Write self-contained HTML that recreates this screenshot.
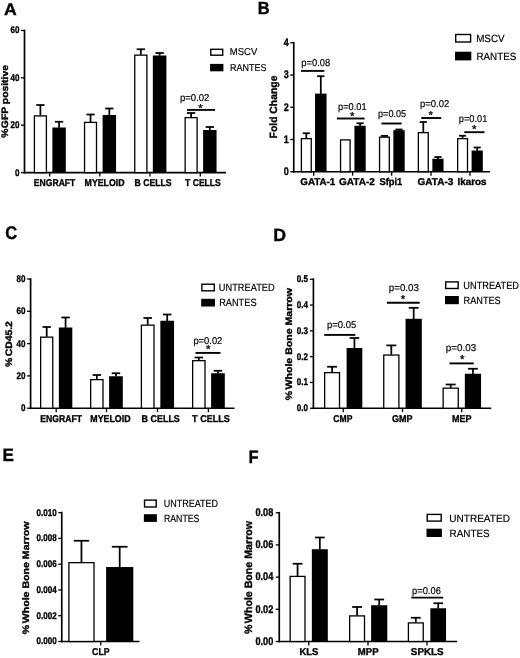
<!DOCTYPE html>
<html lang="en">
<head>
<meta charset="utf-8">
<title>Figure</title>
<style>
html,body{margin:0;padding:0;background:#fff;}
body{width:520px;height:658px;overflow:hidden;}
svg{display:block;}
svg text{font-family:"Liberation Sans", Arial, sans-serif;fill:#000;text-rendering:geometricPrecision;}
</style>
</head>
<body>
<svg width="520" height="658" viewBox="0 0 520 658">
<rect x="0" y="0" width="520" height="658" fill="#fff"/>
<text transform="translate(4.00 15.20) scale(1.05 1)" font-size="16.8" font-weight="bold" stroke="#000" stroke-width="0.35">A</text>
<text transform="translate(257.85 13.55) scale(0.935 1)" font-size="17.6" font-weight="bold" stroke="#000" stroke-width="0.35">B</text>
<text transform="translate(5.37 238.95) scale(0.91 1)" font-size="18.2" font-weight="bold" stroke="#000" stroke-width="0.35">C</text>
<text transform="translate(273.26 240.80) scale(1.005 1)" font-size="17.7" font-weight="bold" stroke="#000" stroke-width="0.35">D</text>
<text transform="translate(2.50 460.70) scale(0.955 1)" font-size="17.9" font-weight="bold" stroke="#000" stroke-width="0.35">E</text>
<text transform="translate(248.45 462.50) scale(0.92 1)" font-size="18.0" font-weight="bold" stroke="#000" stroke-width="0.35">F</text>
<line x1="24.50" y1="29.65" x2="24.50" y2="173.45" stroke="#000" stroke-width="1.7"/>
<line x1="23.65" y1="172.60" x2="226.00" y2="172.60" stroke="#000" stroke-width="1.7"/>
<line x1="21.00" y1="30.50" x2="24.50" y2="30.50" stroke="#000" stroke-width="1.3"/>
<text transform="translate(19.50 33.40) scale(0.82 1)" font-size="9.8" font-weight="bold" stroke="#000" stroke-width="0.35" text-anchor="end">60</text>
<line x1="21.00" y1="77.85" x2="24.50" y2="77.85" stroke="#000" stroke-width="1.3"/>
<text transform="translate(19.50 80.75) scale(0.82 1)" font-size="9.8" font-weight="bold" stroke="#000" stroke-width="0.35" text-anchor="end">40</text>
<line x1="21.00" y1="125.20" x2="24.50" y2="125.20" stroke="#000" stroke-width="1.3"/>
<text transform="translate(19.50 128.10) scale(0.82 1)" font-size="9.8" font-weight="bold" stroke="#000" stroke-width="0.35" text-anchor="end">20</text>
<line x1="21.00" y1="172.60" x2="24.50" y2="172.60" stroke="#000" stroke-width="1.3"/>
<text transform="translate(19.50 175.50) scale(0.82 1)" font-size="9.8" font-weight="bold" stroke="#000" stroke-width="0.35" text-anchor="end">0</text>
<line x1="49.70" y1="172.60" x2="49.70" y2="176.50" stroke="#000" stroke-width="1.3"/>
<line x1="99.80" y1="172.60" x2="99.80" y2="176.50" stroke="#000" stroke-width="1.3"/>
<line x1="150.00" y1="172.60" x2="150.00" y2="176.50" stroke="#000" stroke-width="1.3"/>
<line x1="200.30" y1="172.60" x2="200.30" y2="176.50" stroke="#000" stroke-width="1.3"/>
<rect x="34.40" y="115.90" width="12.00" height="56.70" fill="#fff" stroke="#000" stroke-width="1.3"/>
<line x1="40.40" y1="115.55" x2="40.40" y2="105.00" stroke="#000" stroke-width="1.75"/>
<line x1="36.26" y1="105.00" x2="44.54" y2="105.00" stroke="#000" stroke-width="1.75"/>
<rect x="52.35" y="127.50" width="13.45" height="45.10" fill="#000"/>
<line x1="59.08" y1="127.80" x2="59.08" y2="121.75" stroke="#000" stroke-width="1.75"/>
<line x1="54.89" y1="121.75" x2="63.26" y2="121.75" stroke="#000" stroke-width="1.75"/>
<rect x="84.55" y="122.40" width="11.95" height="50.20" fill="#fff" stroke="#000" stroke-width="1.3"/>
<line x1="90.53" y1="122.05" x2="90.53" y2="114.50" stroke="#000" stroke-width="1.75"/>
<line x1="86.40" y1="114.50" x2="94.65" y2="114.50" stroke="#000" stroke-width="1.75"/>
<rect x="102.60" y="115.00" width="13.45" height="57.60" fill="#000"/>
<line x1="109.32" y1="115.30" x2="109.32" y2="108.50" stroke="#000" stroke-width="1.75"/>
<line x1="105.14" y1="108.50" x2="113.51" y2="108.50" stroke="#000" stroke-width="1.75"/>
<rect x="134.75" y="55.15" width="12.15" height="117.45" fill="#fff" stroke="#000" stroke-width="1.3"/>
<line x1="140.82" y1="54.80" x2="140.82" y2="49.25" stroke="#000" stroke-width="1.75"/>
<line x1="136.64" y1="49.25" x2="145.01" y2="49.25" stroke="#000" stroke-width="1.75"/>
<rect x="152.85" y="55.50" width="13.55" height="117.10" fill="#000"/>
<line x1="159.62" y1="55.80" x2="159.62" y2="53.00" stroke="#000" stroke-width="1.75"/>
<line x1="155.42" y1="53.00" x2="163.83" y2="53.00" stroke="#000" stroke-width="1.75"/>
<rect x="185.15" y="117.65" width="11.95" height="54.95" fill="#fff" stroke="#000" stroke-width="1.3"/>
<line x1="191.12" y1="117.30" x2="191.12" y2="113.00" stroke="#000" stroke-width="1.75"/>
<line x1="187.00" y1="113.00" x2="195.25" y2="113.00" stroke="#000" stroke-width="1.75"/>
<rect x="203.10" y="130.00" width="13.45" height="42.60" fill="#000"/>
<line x1="209.82" y1="130.30" x2="209.82" y2="127.00" stroke="#000" stroke-width="1.75"/>
<line x1="205.64" y1="127.00" x2="214.01" y2="127.00" stroke="#000" stroke-width="1.75"/>
<text transform="translate(33.85 185.90) scale(0.8684 1)" font-size="9.9" font-weight="bold" stroke="#000" stroke-width="0.35">ENGRAFT</text>
<text transform="translate(84.60 185.90) scale(0.888 1)" font-size="9.9" font-weight="bold" stroke="#000" stroke-width="0.35">MYELOID</text>
<text transform="translate(134.60 185.90) scale(0.8748 1)" font-size="9.9" font-weight="bold" stroke="#000" stroke-width="0.35">B CELLS</text>
<text transform="translate(185.10 185.90) scale(0.8679 1)" font-size="9.9" font-weight="bold" stroke="#000" stroke-width="0.35">T CELLS</text>
<line x1="187.00" y1="109.90" x2="215.00" y2="109.90" stroke="#000" stroke-width="1.9"/>
<text x="200.60" y="112.10" font-size="11.5" text-anchor="middle" stroke="#000" stroke-width="0.3">*</text>
<text transform="translate(180.00 101.20) scale(0.9654 1)" font-size="9.9" stroke="#000" stroke-width="0.18">p=0.02</text>
<rect x="210.80" y="49.30" width="11.90" height="5.90" fill="#fff" stroke="#000" stroke-width="1.4"/>
<rect x="210.10" y="63.90" width="13.30" height="7.40" fill="#000"/>
<text transform="translate(229.80 55.40) scale(0.9484 1)" font-size="10" stroke="#000" stroke-width="0.18">MSCV</text>
<text transform="translate(230.10 70.80) scale(0.8949 1)" font-size="10" stroke="#000" stroke-width="0.18">RANTES</text>
<text transform="translate(8.20 137.70) rotate(-90) scale(1.104 1)" font-size="9.4" font-weight="bold" stroke="#000" stroke-width="0.35">%<tspan dx="0.3">GFP positive</tspan></text>
<line x1="293.75" y1="41.90" x2="293.75" y2="172.60" stroke="#000" stroke-width="1.7"/>
<line x1="292.90" y1="171.75" x2="490.00" y2="171.75" stroke="#000" stroke-width="1.7"/>
<line x1="290.25" y1="42.75" x2="293.75" y2="42.75" stroke="#000" stroke-width="1.3"/>
<text transform="translate(288.80 46.01) scale(0.82 1)" font-size="11" font-weight="bold" stroke="#000" stroke-width="0.35" text-anchor="end">4</text>
<line x1="290.25" y1="75.00" x2="293.75" y2="75.00" stroke="#000" stroke-width="1.3"/>
<text transform="translate(288.80 78.26) scale(0.82 1)" font-size="11" font-weight="bold" stroke="#000" stroke-width="0.35" text-anchor="end">3</text>
<line x1="290.25" y1="107.25" x2="293.75" y2="107.25" stroke="#000" stroke-width="1.3"/>
<text transform="translate(288.80 110.51) scale(0.82 1)" font-size="11" font-weight="bold" stroke="#000" stroke-width="0.35" text-anchor="end">2</text>
<line x1="290.25" y1="139.50" x2="293.75" y2="139.50" stroke="#000" stroke-width="1.3"/>
<text transform="translate(288.80 142.76) scale(0.82 1)" font-size="11" font-weight="bold" stroke="#000" stroke-width="0.35" text-anchor="end">1</text>
<line x1="290.25" y1="171.75" x2="293.75" y2="171.75" stroke="#000" stroke-width="1.3"/>
<text transform="translate(288.80 175.01) scale(0.82 1)" font-size="11" font-weight="bold" stroke="#000" stroke-width="0.35" text-anchor="end">0</text>
<line x1="313.75" y1="171.75" x2="313.75" y2="175.65" stroke="#000" stroke-width="1.3"/>
<line x1="352.60" y1="171.75" x2="352.60" y2="175.65" stroke="#000" stroke-width="1.3"/>
<line x1="391.70" y1="171.75" x2="391.70" y2="175.65" stroke="#000" stroke-width="1.3"/>
<line x1="431.00" y1="171.75" x2="431.00" y2="175.65" stroke="#000" stroke-width="1.3"/>
<line x1="470.00" y1="171.75" x2="470.00" y2="175.65" stroke="#000" stroke-width="1.3"/>
<rect x="301.40" y="138.65" width="9.85" height="33.10" fill="#fff" stroke="#000" stroke-width="1.3"/>
<line x1="306.32" y1="138.30" x2="306.32" y2="133.25" stroke="#000" stroke-width="1.75"/>
<line x1="302.76" y1="133.25" x2="309.89" y2="133.25" stroke="#000" stroke-width="1.75"/>
<rect x="315.05" y="93.60" width="11.50" height="78.15" fill="#000"/>
<line x1="320.80" y1="93.90" x2="320.80" y2="76.20" stroke="#000" stroke-width="1.75"/>
<line x1="317.15" y1="76.20" x2="324.45" y2="76.20" stroke="#000" stroke-width="1.75"/>
<rect x="340.55" y="139.90" width="9.55" height="31.85" fill="#fff" stroke="#000" stroke-width="1.3"/>
<rect x="354.45" y="125.75" width="11.25" height="46.00" fill="#000"/>
<line x1="360.08" y1="126.05" x2="360.08" y2="123.25" stroke="#000" stroke-width="1.75"/>
<line x1="356.49" y1="123.25" x2="363.66" y2="123.25" stroke="#000" stroke-width="1.75"/>
<rect x="379.55" y="137.15" width="9.75" height="34.60" fill="#fff" stroke="#000" stroke-width="1.3"/>
<line x1="384.42" y1="136.80" x2="384.42" y2="135.90" stroke="#000" stroke-width="1.75"/>
<line x1="380.89" y1="135.90" x2="387.96" y2="135.90" stroke="#000" stroke-width="1.75"/>
<rect x="393.35" y="130.20" width="11.35" height="41.55" fill="#000"/>
<line x1="399.02" y1="130.50" x2="399.02" y2="129.50" stroke="#000" stroke-width="1.75"/>
<line x1="395.41" y1="129.50" x2="402.64" y2="129.50" stroke="#000" stroke-width="1.75"/>
<rect x="418.35" y="132.65" width="9.90" height="39.10" fill="#fff" stroke="#000" stroke-width="1.3"/>
<line x1="423.30" y1="132.30" x2="423.30" y2="122.00" stroke="#000" stroke-width="1.75"/>
<line x1="419.73" y1="122.00" x2="426.87" y2="122.00" stroke="#000" stroke-width="1.75"/>
<rect x="432.35" y="158.75" width="11.20" height="13.00" fill="#000"/>
<line x1="437.95" y1="159.05" x2="437.95" y2="157.00" stroke="#000" stroke-width="1.75"/>
<line x1="434.38" y1="157.00" x2="441.52" y2="157.00" stroke="#000" stroke-width="1.75"/>
<rect x="457.65" y="138.65" width="9.85" height="33.10" fill="#fff" stroke="#000" stroke-width="1.3"/>
<line x1="462.57" y1="138.30" x2="462.57" y2="135.75" stroke="#000" stroke-width="1.75"/>
<line x1="459.01" y1="135.75" x2="466.14" y2="135.75" stroke="#000" stroke-width="1.75"/>
<rect x="471.60" y="150.50" width="11.20" height="21.25" fill="#000"/>
<line x1="477.20" y1="150.80" x2="477.20" y2="147.50" stroke="#000" stroke-width="1.75"/>
<line x1="473.63" y1="147.50" x2="480.77" y2="147.50" stroke="#000" stroke-width="1.75"/>
<text transform="translate(300.35 185.40) scale(0.9907 1)" font-size="9.9" font-weight="bold" stroke="#000" stroke-width="0.35">GATA-1</text>
<text transform="translate(339.10 185.40) scale(1.0119 1)" font-size="9.9" font-weight="bold" stroke="#000" stroke-width="0.35">GATA-2</text>
<text transform="translate(379.40 185.40) scale(0.9461 1)" font-size="9.9" font-weight="bold" stroke="#000" stroke-width="0.35">Sfpi1</text>
<text transform="translate(417.60 185.40) scale(1.0119 1)" font-size="9.9" font-weight="bold" stroke="#000" stroke-width="0.35">GATA-3</text>
<text transform="translate(457.60 185.40) scale(0.9959 1)" font-size="9.9" font-weight="bold" stroke="#000" stroke-width="0.35">Ikaros</text>
<line x1="301.00" y1="70.90" x2="324.40" y2="70.90" stroke="#000" stroke-width="1.9"/>
<text transform="translate(301.30 66.00) scale(0.9458 1)" font-size="9.9" stroke="#000" stroke-width="0.18">p=0.08</text>
<line x1="336.90" y1="118.50" x2="364.60" y2="118.50" stroke="#000" stroke-width="1.9"/>
<text x="352.30" y="119.55" font-size="11.5" text-anchor="middle" stroke="#000" stroke-width="0.3">*</text>
<text transform="translate(338.00 109.80) scale(0.9393 1)" font-size="9.9" stroke="#000" stroke-width="0.18">p=0.01</text>
<line x1="381.50" y1="123.50" x2="401.60" y2="123.50" stroke="#000" stroke-width="1.9"/>
<text transform="translate(378.00 117.20) scale(0.9229 1)" font-size="9.9" stroke="#000" stroke-width="0.18">p=0.05</text>
<line x1="421.25" y1="118.00" x2="441.25" y2="118.00" stroke="#000" stroke-width="1.9"/>
<text x="430.75" y="118.65" font-size="11.5" text-anchor="middle" stroke="#000" stroke-width="0.3">*</text>
<text transform="translate(420.00 106.80) scale(0.9573 1)" font-size="9.9" stroke="#000" stroke-width="0.18">p=0.02</text>
<line x1="464.25" y1="132.20" x2="484.50" y2="132.20" stroke="#000" stroke-width="1.9"/>
<text x="474.25" y="132.90" font-size="11.5" text-anchor="middle" stroke="#000" stroke-width="0.3">*</text>
<text transform="translate(458.75 122.10) scale(0.9376 1)" font-size="9.9" stroke="#000" stroke-width="0.18">p=0.01</text>
<rect x="455.70" y="34.50" width="14.90" height="7.50" fill="#fff" stroke="#000" stroke-width="1.4"/>
<rect x="455.00" y="51.70" width="16.30" height="8.70" fill="#000"/>
<text transform="translate(476.15 41.80) scale(0.9395 1)" font-size="10.5" stroke="#000" stroke-width="0.18">MSCV</text>
<text transform="translate(476.45 59.50) scale(0.9345 1)" font-size="10.5" stroke="#000" stroke-width="0.18">RANTES</text>
<text transform="translate(276.50 138.40) rotate(-90) scale(0.9877 1)" font-size="10.5" font-weight="bold" stroke="#000" stroke-width="0.35">Fold Change</text>
<line x1="30.60" y1="278.15" x2="30.60" y2="409.10" stroke="#000" stroke-width="1.7"/>
<line x1="29.75" y1="408.25" x2="234.50" y2="408.25" stroke="#000" stroke-width="1.7"/>
<line x1="27.10" y1="279.00" x2="30.60" y2="279.00" stroke="#000" stroke-width="1.3"/>
<text transform="translate(25.50 281.90) scale(0.82 1)" font-size="9.8" font-weight="bold" stroke="#000" stroke-width="0.35" text-anchor="end">80</text>
<line x1="27.10" y1="311.30" x2="30.60" y2="311.30" stroke="#000" stroke-width="1.3"/>
<text transform="translate(25.50 314.20) scale(0.82 1)" font-size="9.8" font-weight="bold" stroke="#000" stroke-width="0.35" text-anchor="end">60</text>
<line x1="27.10" y1="343.60" x2="30.60" y2="343.60" stroke="#000" stroke-width="1.3"/>
<text transform="translate(25.50 346.50) scale(0.82 1)" font-size="9.8" font-weight="bold" stroke="#000" stroke-width="0.35" text-anchor="end">40</text>
<line x1="27.10" y1="375.90" x2="30.60" y2="375.90" stroke="#000" stroke-width="1.3"/>
<text transform="translate(25.50 378.80) scale(0.82 1)" font-size="9.8" font-weight="bold" stroke="#000" stroke-width="0.35" text-anchor="end">20</text>
<line x1="27.10" y1="408.25" x2="30.60" y2="408.25" stroke="#000" stroke-width="1.3"/>
<text transform="translate(25.50 411.15) scale(0.82 1)" font-size="9.8" font-weight="bold" stroke="#000" stroke-width="0.35" text-anchor="end">0</text>
<line x1="56.20" y1="408.25" x2="56.20" y2="412.15" stroke="#000" stroke-width="1.3"/>
<line x1="106.50" y1="408.25" x2="106.50" y2="412.15" stroke="#000" stroke-width="1.3"/>
<line x1="157.50" y1="408.25" x2="157.50" y2="412.15" stroke="#000" stroke-width="1.3"/>
<line x1="208.40" y1="408.25" x2="208.40" y2="412.15" stroke="#000" stroke-width="1.3"/>
<rect x="40.65" y="337.15" width="12.10" height="71.10" fill="#fff" stroke="#000" stroke-width="1.3"/>
<line x1="46.70" y1="336.80" x2="46.70" y2="327.00" stroke="#000" stroke-width="1.75"/>
<line x1="42.53" y1="327.00" x2="50.87" y2="327.00" stroke="#000" stroke-width="1.75"/>
<rect x="58.85" y="327.50" width="13.45" height="80.75" fill="#000"/>
<line x1="65.58" y1="327.80" x2="65.58" y2="317.50" stroke="#000" stroke-width="1.75"/>
<line x1="61.39" y1="317.50" x2="69.76" y2="317.50" stroke="#000" stroke-width="1.75"/>
<rect x="90.65" y="379.65" width="12.35" height="28.60" fill="#fff" stroke="#000" stroke-width="1.3"/>
<line x1="96.83" y1="379.30" x2="96.83" y2="375.00" stroke="#000" stroke-width="1.75"/>
<line x1="92.59" y1="375.00" x2="101.06" y2="375.00" stroke="#000" stroke-width="1.75"/>
<rect x="109.10" y="376.25" width="13.70" height="32.00" fill="#000"/>
<line x1="115.95" y1="376.55" x2="115.95" y2="373.25" stroke="#000" stroke-width="1.75"/>
<line x1="111.70" y1="373.25" x2="120.20" y2="373.25" stroke="#000" stroke-width="1.75"/>
<rect x="141.40" y="325.15" width="12.60" height="83.10" fill="#fff" stroke="#000" stroke-width="1.3"/>
<line x1="147.70" y1="324.80" x2="147.70" y2="318.00" stroke="#000" stroke-width="1.75"/>
<line x1="143.40" y1="318.00" x2="152.00" y2="318.00" stroke="#000" stroke-width="1.75"/>
<rect x="160.35" y="320.75" width="13.70" height="87.50" fill="#000"/>
<line x1="167.20" y1="321.05" x2="167.20" y2="314.50" stroke="#000" stroke-width="1.75"/>
<line x1="162.95" y1="314.50" x2="171.45" y2="314.50" stroke="#000" stroke-width="1.75"/>
<rect x="192.65" y="360.65" width="12.35" height="47.60" fill="#fff" stroke="#000" stroke-width="1.3"/>
<line x1="198.82" y1="360.30" x2="198.82" y2="357.50" stroke="#000" stroke-width="1.75"/>
<line x1="194.59" y1="357.50" x2="203.06" y2="357.50" stroke="#000" stroke-width="1.75"/>
<rect x="211.10" y="373.25" width="13.70" height="35.00" fill="#000"/>
<line x1="217.95" y1="373.55" x2="217.95" y2="370.75" stroke="#000" stroke-width="1.75"/>
<line x1="213.70" y1="370.75" x2="222.20" y2="370.75" stroke="#000" stroke-width="1.75"/>
<text transform="translate(40.35 421.60) scale(0.8736 1)" font-size="9.9" font-weight="bold" stroke="#000" stroke-width="0.35">ENGRAFT</text>
<text transform="translate(90.35 421.60) scale(0.8924 1)" font-size="9.9" font-weight="bold" stroke="#000" stroke-width="0.35">MYELOID</text>
<text transform="translate(141.60 421.60) scale(0.9044 1)" font-size="9.9" font-weight="bold" stroke="#000" stroke-width="0.35">B CELLS</text>
<text transform="translate(192.10 421.60) scale(0.9164 1)" font-size="9.9" font-weight="bold" stroke="#000" stroke-width="0.35">T CELLS</text>
<line x1="195.50" y1="352.90" x2="220.50" y2="352.90" stroke="#000" stroke-width="1.9"/>
<text x="208.25" y="353.10" font-size="11.5" text-anchor="middle" stroke="#000" stroke-width="0.3">*</text>
<text transform="translate(193.40 343.70) scale(0.9491 1)" font-size="9.9" stroke="#000" stroke-width="0.18">p=0.02</text>
<rect x="201.90" y="284.20" width="12.40" height="6.60" fill="#fff" stroke="#000" stroke-width="1.4"/>
<rect x="201.20" y="298.80" width="13.80" height="7.70" fill="#000"/>
<text transform="translate(218.85 291.20) scale(0.8803 1)" font-size="10.5" stroke="#000" stroke-width="0.18">UNTREATED</text>
<text transform="translate(219.15 306.20) scale(0.8781 1)" font-size="10.5" stroke="#000" stroke-width="0.18">RANTES</text>
<text transform="translate(12.00 367.00) rotate(-90) scale(1.1076 1)" font-size="9.4" font-weight="bold" stroke="#000" stroke-width="0.35">%<tspan dx="1.3">CD45.2</tspan></text>
<line x1="313.40" y1="278.40" x2="313.40" y2="409.10" stroke="#000" stroke-width="1.7"/>
<line x1="312.55" y1="408.25" x2="491.25" y2="408.25" stroke="#000" stroke-width="1.7"/>
<line x1="309.90" y1="279.25" x2="313.40" y2="279.25" stroke="#000" stroke-width="1.3"/>
<text transform="translate(307.90 282.15) scale(0.82 1)" font-size="9.8" font-weight="bold" stroke="#000" stroke-width="0.35" text-anchor="end">0.5</text>
<line x1="309.90" y1="305.05" x2="313.40" y2="305.05" stroke="#000" stroke-width="1.3"/>
<text transform="translate(307.90 307.95) scale(0.82 1)" font-size="9.8" font-weight="bold" stroke="#000" stroke-width="0.35" text-anchor="end">0.4</text>
<line x1="309.90" y1="330.85" x2="313.40" y2="330.85" stroke="#000" stroke-width="1.3"/>
<text transform="translate(307.90 333.75) scale(0.82 1)" font-size="9.8" font-weight="bold" stroke="#000" stroke-width="0.35" text-anchor="end">0.3</text>
<line x1="309.90" y1="356.65" x2="313.40" y2="356.65" stroke="#000" stroke-width="1.3"/>
<text transform="translate(307.90 359.55) scale(0.82 1)" font-size="9.8" font-weight="bold" stroke="#000" stroke-width="0.35" text-anchor="end">0.2</text>
<line x1="309.90" y1="382.45" x2="313.40" y2="382.45" stroke="#000" stroke-width="1.3"/>
<text transform="translate(307.90 385.35) scale(0.82 1)" font-size="9.8" font-weight="bold" stroke="#000" stroke-width="0.35" text-anchor="end">0.1</text>
<line x1="309.90" y1="408.25" x2="313.40" y2="408.25" stroke="#000" stroke-width="1.3"/>
<text transform="translate(307.90 411.15) scale(0.82 1)" font-size="9.8" font-weight="bold" stroke="#000" stroke-width="0.35" text-anchor="end">0.0</text>
<line x1="343.25" y1="408.25" x2="343.25" y2="412.15" stroke="#000" stroke-width="1.3"/>
<line x1="402.50" y1="408.25" x2="402.50" y2="412.15" stroke="#000" stroke-width="1.3"/>
<line x1="461.75" y1="408.25" x2="461.75" y2="412.15" stroke="#000" stroke-width="1.3"/>
<rect x="324.65" y="372.65" width="14.85" height="35.60" fill="#fff" stroke="#000" stroke-width="1.3"/>
<line x1="332.07" y1="372.30" x2="332.07" y2="366.75" stroke="#000" stroke-width="1.75"/>
<line x1="327.16" y1="366.75" x2="336.99" y2="366.75" stroke="#000" stroke-width="1.75"/>
<rect x="346.60" y="348.00" width="15.70" height="60.25" fill="#000"/>
<line x1="354.45" y1="348.30" x2="354.45" y2="338.00" stroke="#000" stroke-width="1.75"/>
<line x1="349.66" y1="338.00" x2="359.24" y2="338.00" stroke="#000" stroke-width="1.75"/>
<rect x="383.75" y="355.05" width="15.15" height="53.20" fill="#fff" stroke="#000" stroke-width="1.3"/>
<line x1="391.32" y1="354.70" x2="391.32" y2="345.40" stroke="#000" stroke-width="1.75"/>
<line x1="386.33" y1="345.40" x2="396.32" y2="345.40" stroke="#000" stroke-width="1.75"/>
<rect x="405.55" y="318.80" width="16.25" height="89.45" fill="#000"/>
<line x1="413.68" y1="319.10" x2="413.68" y2="307.80" stroke="#000" stroke-width="1.75"/>
<line x1="408.74" y1="307.80" x2="418.61" y2="307.80" stroke="#000" stroke-width="1.75"/>
<rect x="443.15" y="388.15" width="15.10" height="20.10" fill="#fff" stroke="#000" stroke-width="1.3"/>
<line x1="450.70" y1="387.80" x2="450.70" y2="384.50" stroke="#000" stroke-width="1.75"/>
<line x1="445.72" y1="384.50" x2="455.68" y2="384.50" stroke="#000" stroke-width="1.75"/>
<rect x="464.85" y="373.75" width="16.20" height="34.50" fill="#000"/>
<line x1="472.95" y1="374.05" x2="472.95" y2="368.75" stroke="#000" stroke-width="1.75"/>
<line x1="468.03" y1="368.75" x2="477.87" y2="368.75" stroke="#000" stroke-width="1.75"/>
<text transform="translate(333.35 421.60) scale(0.8659 1)" font-size="9.9" font-weight="bold" stroke="#000" stroke-width="0.35">CMP</text>
<text transform="translate(392.00 421.60) scale(0.9135 1)" font-size="9.9" font-weight="bold" stroke="#000" stroke-width="0.35">GMP</text>
<text transform="translate(452.10 421.60) scale(0.9113 1)" font-size="9.9" font-weight="bold" stroke="#000" stroke-width="0.35">MEP</text>
<line x1="324.20" y1="334.90" x2="355.30" y2="334.90" stroke="#000" stroke-width="1.9"/>
<text transform="translate(327.00 327.90) scale(0.9573 1)" font-size="9.9" stroke="#000" stroke-width="0.18">p=0.05</text>
<line x1="386.90" y1="302.80" x2="419.70" y2="302.80" stroke="#000" stroke-width="1.9"/>
<text x="402.90" y="302.90" font-size="11.5" text-anchor="middle" stroke="#000" stroke-width="0.3">*</text>
<text transform="translate(388.80 290.90) scale(0.9884 1)" font-size="9.9" stroke="#000" stroke-width="0.18">p=0.03</text>
<line x1="449.50" y1="363.40" x2="473.75" y2="363.40" stroke="#000" stroke-width="1.9"/>
<text x="462.30" y="363.10" font-size="11.5" text-anchor="middle" stroke="#000" stroke-width="0.3">*</text>
<text transform="translate(445.80 350.70) scale(0.9965 1)" font-size="9.9" stroke="#000" stroke-width="0.18">p=0.03</text>
<rect x="445.70" y="281.90" width="12.45" height="6.60" fill="#fff" stroke="#000" stroke-width="1.4"/>
<rect x="445.00" y="296.00" width="13.85" height="8.20" fill="#000"/>
<text transform="translate(463.30 288.90) scale(0.8787 1)" font-size="10.5" stroke="#000" stroke-width="0.18">UNTREATED</text>
<text transform="translate(463.60 303.90) scale(0.8711 1)" font-size="10.5" stroke="#000" stroke-width="0.18">RANTES</text>
<text transform="translate(292.40 400.30) rotate(-90) scale(1.1259 1)" font-size="9.4" font-weight="bold" stroke="#000" stroke-width="0.35">%<tspan dx="1.3">Whole Bone Marrow</tspan></text>
<line x1="61.75" y1="511.75" x2="61.75" y2="642.35" stroke="#000" stroke-width="1.7"/>
<line x1="60.90" y1="641.50" x2="139.50" y2="641.50" stroke="#000" stroke-width="1.7"/>
<line x1="58.25" y1="512.60" x2="61.75" y2="512.60" stroke="#000" stroke-width="1.3"/>
<text transform="translate(56.70 515.50) scale(0.82 1)" font-size="9.8" font-weight="bold" stroke="#000" stroke-width="0.35" text-anchor="end">0.010</text>
<line x1="58.25" y1="538.40" x2="61.75" y2="538.40" stroke="#000" stroke-width="1.3"/>
<text transform="translate(56.70 541.30) scale(0.82 1)" font-size="9.8" font-weight="bold" stroke="#000" stroke-width="0.35" text-anchor="end">0.008</text>
<line x1="58.25" y1="564.20" x2="61.75" y2="564.20" stroke="#000" stroke-width="1.3"/>
<text transform="translate(56.70 567.10) scale(0.82 1)" font-size="9.8" font-weight="bold" stroke="#000" stroke-width="0.35" text-anchor="end">0.006</text>
<line x1="58.25" y1="590.00" x2="61.75" y2="590.00" stroke="#000" stroke-width="1.3"/>
<text transform="translate(56.70 592.90) scale(0.82 1)" font-size="9.8" font-weight="bold" stroke="#000" stroke-width="0.35" text-anchor="end">0.004</text>
<line x1="58.25" y1="615.70" x2="61.75" y2="615.70" stroke="#000" stroke-width="1.3"/>
<text transform="translate(56.70 618.60) scale(0.82 1)" font-size="9.8" font-weight="bold" stroke="#000" stroke-width="0.35" text-anchor="end">0.002</text>
<line x1="58.25" y1="641.50" x2="61.75" y2="641.50" stroke="#000" stroke-width="1.3"/>
<text transform="translate(56.70 644.40) scale(0.82 1)" font-size="9.8" font-weight="bold" stroke="#000" stroke-width="0.35" text-anchor="end">0.000</text>
<line x1="100.75" y1="641.50" x2="100.75" y2="645.40" stroke="#000" stroke-width="1.3"/>
<rect x="68.90" y="562.65" width="25.10" height="78.85" fill="#fff" stroke="#000" stroke-width="1.3"/>
<line x1="81.45" y1="562.30" x2="81.45" y2="540.75" stroke="#000" stroke-width="1.75"/>
<line x1="73.77" y1="540.75" x2="89.13" y2="540.75" stroke="#000" stroke-width="1.75"/>
<rect x="106.10" y="567.00" width="27.20" height="74.50" fill="#000"/>
<line x1="119.70" y1="567.30" x2="119.70" y2="546.75" stroke="#000" stroke-width="1.75"/>
<line x1="111.81" y1="546.75" x2="127.59" y2="546.75" stroke="#000" stroke-width="1.75"/>
<text transform="translate(92.10 654.80) scale(0.8864 1)" font-size="9.9" font-weight="bold" stroke="#000" stroke-width="0.35">CLP</text>
<rect x="144.55" y="500.10" width="11.65" height="6.90" fill="#fff" stroke="#000" stroke-width="1.4"/>
<rect x="143.85" y="514.20" width="13.05" height="7.70" fill="#000"/>
<text transform="translate(163.65 507.20) scale(0.8582 1)" font-size="10.5" stroke="#000" stroke-width="0.18">UNTREATED</text>
<text transform="translate(163.95 521.60) scale(0.8312 1)" font-size="10.5" stroke="#000" stroke-width="0.18">RANTES</text>
<text transform="translate(29.30 634.15) rotate(-90) scale(1.1289 1)" font-size="9.4" font-weight="bold" stroke="#000" stroke-width="0.35">%<tspan dx="1.3">Whole Bone Marrow</tspan></text>
<line x1="279.25" y1="511.90" x2="279.25" y2="642.35" stroke="#000" stroke-width="1.7"/>
<line x1="278.40" y1="641.50" x2="457.00" y2="641.50" stroke="#000" stroke-width="1.7"/>
<line x1="275.75" y1="512.75" x2="279.25" y2="512.75" stroke="#000" stroke-width="1.3"/>
<text transform="translate(273.30 516.06) scale(0.82 1)" font-size="11.2" font-weight="bold" stroke="#000" stroke-width="0.35" text-anchor="end">0.08</text>
<line x1="275.75" y1="544.90" x2="279.25" y2="544.90" stroke="#000" stroke-width="1.3"/>
<text transform="translate(273.30 548.21) scale(0.82 1)" font-size="11.2" font-weight="bold" stroke="#000" stroke-width="0.35" text-anchor="end">0.06</text>
<line x1="275.75" y1="577.10" x2="279.25" y2="577.10" stroke="#000" stroke-width="1.3"/>
<text transform="translate(273.30 580.41) scale(0.82 1)" font-size="11.2" font-weight="bold" stroke="#000" stroke-width="0.35" text-anchor="end">0.04</text>
<line x1="275.75" y1="609.30" x2="279.25" y2="609.30" stroke="#000" stroke-width="1.3"/>
<text transform="translate(273.30 612.61) scale(0.82 1)" font-size="11.2" font-weight="bold" stroke="#000" stroke-width="0.35" text-anchor="end">0.02</text>
<line x1="275.75" y1="641.50" x2="279.25" y2="641.50" stroke="#000" stroke-width="1.3"/>
<text transform="translate(273.30 644.81) scale(0.82 1)" font-size="11.2" font-weight="bold" stroke="#000" stroke-width="0.35" text-anchor="end">0.00</text>
<line x1="308.75" y1="641.50" x2="308.75" y2="645.40" stroke="#000" stroke-width="1.3"/>
<line x1="368.00" y1="641.50" x2="368.00" y2="645.40" stroke="#000" stroke-width="1.3"/>
<line x1="427.00" y1="641.50" x2="427.00" y2="645.40" stroke="#000" stroke-width="1.3"/>
<rect x="290.15" y="576.40" width="14.85" height="65.10" fill="#fff" stroke="#000" stroke-width="1.3"/>
<line x1="297.57" y1="576.05" x2="297.57" y2="563.75" stroke="#000" stroke-width="1.75"/>
<line x1="292.66" y1="563.75" x2="302.49" y2="563.75" stroke="#000" stroke-width="1.75"/>
<rect x="311.85" y="549.25" width="15.95" height="92.25" fill="#000"/>
<line x1="319.83" y1="549.55" x2="319.83" y2="537.50" stroke="#000" stroke-width="1.75"/>
<line x1="314.97" y1="537.50" x2="324.68" y2="537.50" stroke="#000" stroke-width="1.75"/>
<rect x="349.65" y="615.90" width="14.85" height="25.60" fill="#fff" stroke="#000" stroke-width="1.3"/>
<line x1="357.07" y1="615.55" x2="357.07" y2="607.00" stroke="#000" stroke-width="1.75"/>
<line x1="352.16" y1="607.00" x2="361.99" y2="607.00" stroke="#000" stroke-width="1.75"/>
<rect x="371.10" y="605.25" width="16.20" height="36.25" fill="#000"/>
<line x1="379.20" y1="605.55" x2="379.20" y2="599.50" stroke="#000" stroke-width="1.75"/>
<line x1="374.28" y1="599.50" x2="384.12" y2="599.50" stroke="#000" stroke-width="1.75"/>
<rect x="408.40" y="622.90" width="14.85" height="18.60" fill="#fff" stroke="#000" stroke-width="1.3"/>
<line x1="415.82" y1="622.55" x2="415.82" y2="617.75" stroke="#000" stroke-width="1.75"/>
<line x1="410.91" y1="617.75" x2="420.74" y2="617.75" stroke="#000" stroke-width="1.75"/>
<rect x="430.35" y="608.25" width="15.70" height="33.25" fill="#000"/>
<line x1="438.20" y1="608.55" x2="438.20" y2="603.25" stroke="#000" stroke-width="1.75"/>
<line x1="433.41" y1="603.25" x2="442.99" y2="603.25" stroke="#000" stroke-width="1.75"/>
<text transform="translate(299.60 654.80) scale(0.9495 1)" font-size="9.9" font-weight="bold" stroke="#000" stroke-width="0.35">KLS</text>
<text transform="translate(357.85 654.80) scale(0.9695 1)" font-size="9.9" font-weight="bold" stroke="#000" stroke-width="0.35">MPP</text>
<text transform="translate(410.85 654.80) scale(0.9937 1)" font-size="9.9" font-weight="bold" stroke="#000" stroke-width="0.35">SPKLS</text>
<line x1="411.25" y1="597.65" x2="443.25" y2="597.65" stroke="#000" stroke-width="1.9"/>
<text transform="translate(412.00 594.10) scale(0.9458 1)" font-size="9.9" stroke="#000" stroke-width="0.18">p=0.06</text>
<rect x="427.20" y="514.40" width="14.00" height="6.70" fill="#fff" stroke="#000" stroke-width="1.4"/>
<rect x="426.50" y="528.70" width="15.40" height="8.30" fill="#000"/>
<text transform="translate(449.30 521.50) scale(0.956 1)" font-size="10.5" stroke="#000" stroke-width="0.18">UNTREATED</text>
<text transform="translate(449.60 536.70) scale(0.9415 1)" font-size="10.5" stroke="#000" stroke-width="0.18">RANTES</text>
<text transform="translate(251.60 633.90) rotate(-90) scale(1.0035 1)" font-size="10.6" font-weight="bold" stroke="#000" stroke-width="0.35">%<tspan dx="1.3">Whole Bone Marrow</tspan></text>
</svg>
</body>
</html>
